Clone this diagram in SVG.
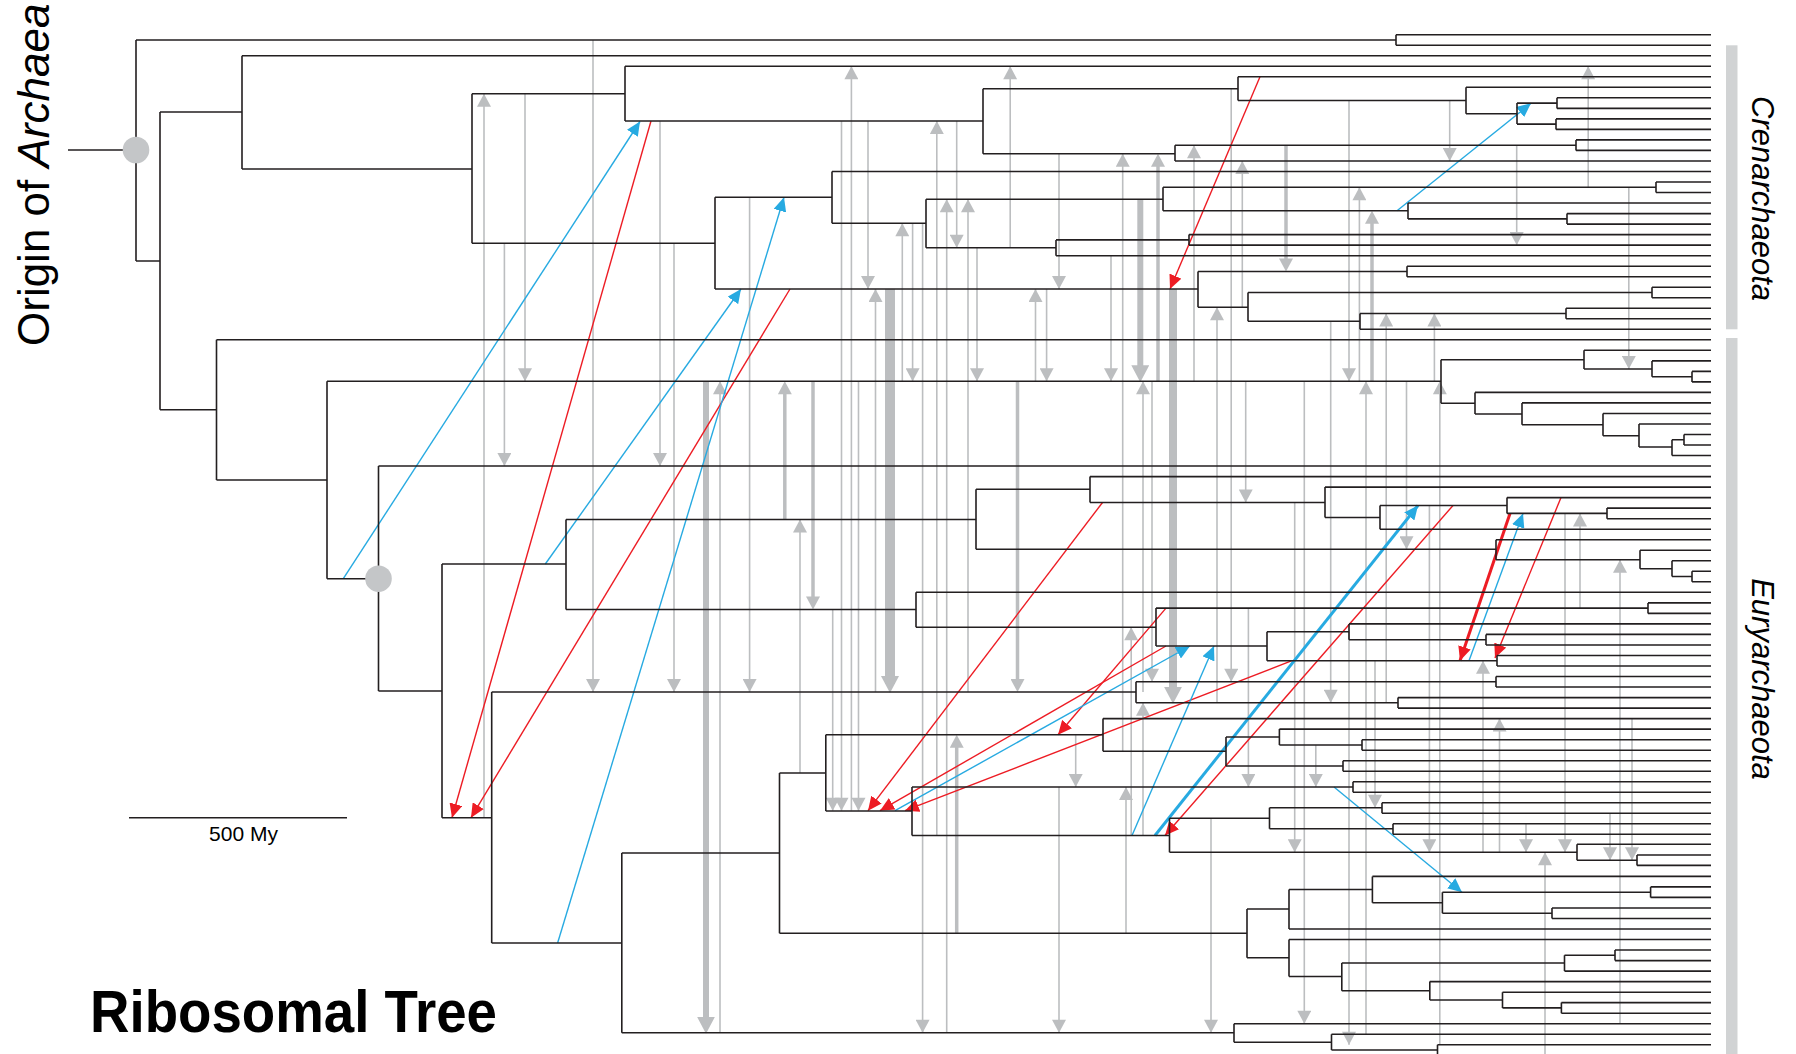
<svg xmlns="http://www.w3.org/2000/svg" width="1796" height="1054" viewBox="0 0 1796 1054">
<style>
.t{fill:none;stroke:#231f20;stroke-width:1.6}
.g{fill:none;stroke:#bcbec0;stroke-width:1.6;marker-end:url(#hg)}
.gm{fill:none;stroke:#bcbec0;stroke-width:3.5;marker-end:url(#hgM)}
.gt{fill:none;stroke:#bcbec0;stroke-width:8;marker-end:url(#hgL)}
.r{fill:none;stroke:#ed1c24;stroke-width:1.4;marker-end:url(#hr)}
.b{fill:none;stroke:#27aae1;stroke-width:1.4;marker-end:url(#hb)}
.w3{stroke-width:3}
.lab{font-family:"Liberation Sans",Arial,sans-serif;fill:#000}
.bar{fill:#d1d3d4}
</style>
<defs>
<marker id="hg" markerUnits="userSpaceOnUse" markerWidth="14" markerHeight="14" viewBox="0 0 13 14" refX="13" refY="7" orient="auto"><path d="M0,0 L13,7 L0,14 z" fill="#bcbec0"/></marker>
<marker id="hgM" markerUnits="userSpaceOnUse" markerWidth="14" markerHeight="14" viewBox="0 0 13 14" refX="6" refY="7" orient="auto"><path d="M0,0 L13,7 L0,14 z" fill="#bcbec0"/></marker>
<marker id="hgL" markerUnits="userSpaceOnUse" markerWidth="17" markerHeight="18" viewBox="0 0 17 18" refX="8" refY="9" orient="auto"><path d="M0,0 L17,9 L0,18 z" fill="#bcbec0"/></marker>
<marker id="hr" markerUnits="userSpaceOnUse" markerWidth="14" markerHeight="13" viewBox="0 0 14 13" refX="14" refY="6.5" orient="auto"><path d="M0,0 L14,6.5 L0,13 z" fill="#ed1c24"/></marker>
<marker id="hb" markerUnits="userSpaceOnUse" markerWidth="14" markerHeight="13" viewBox="0 0 14 13" refX="14" refY="6.5" orient="auto"><path d="M0,0 L14,6.5 L0,13 z" fill="#27aae1"/></marker>
</defs>
<rect width="1796" height="1054" fill="#fff"/>

<g id="labels">
<text class="lab" font-size="44" transform="translate(49,346) rotate(-90)">Origin of <tspan font-style="italic">Archaea</tspan></text>
<text class="lab" font-size="31" font-style="italic" text-anchor="middle" transform="translate(1752,198.5) rotate(90)">Crenarchaeota</text>
<text class="lab" font-size="31" font-style="italic" text-anchor="middle" transform="translate(1752,679) rotate(90)">Euryarchaeota</text>
<text class="lab" font-size="60" font-weight="bold" x="90" y="1031.7" textLength="407" lengthAdjust="spacingAndGlyphs">Ribosomal Tree</text>
<text class="lab" font-size="21" text-anchor="middle" x="243.5" y="841">500 My</text>
<path d="M129,817.7 H347" stroke="#231f20" stroke-width="1.6"/>
<rect class="bar" x="1726" y="45.3" width="11.5" height="284"/>
<rect class="bar" x="1726" y="338" width="11.5" height="716"/>
</g>

<g id="arrows-gray">
<path class="g" d="M484,817.7V93.7"/>
<path class="g" d="M504.4,243.3V466"/>
<path class="g" d="M525,93.7V381.3"/>
<path class="g" d="M593,40V692"/>
<path class="g" d="M660,121V466"/>
<path class="g" d="M674,243.3V692"/>
<path class="g" d="M720,1032.7V381.3"/>
<path class="g" d="M749.6,197.3V692"/>
<path class="g" d="M800,773V519.5"/>
<path class="g" d="M832.7,609.5V810.7"/>
<path class="g" d="M841.5,121V810.7"/>
<path class="g" d="M851.4,810.7V66.3"/>
<path class="g" d="M858.5,381.3V810.7"/>
<path class="g" d="M868,121V289"/>
<path class="g" d="M875.5,692V289"/>
<path class="g" d="M902.3,381.3V223.3"/>
<path class="g" d="M912.6,223.3V381.3"/>
<path class="g" d="M922.6,223.3V1032.7"/>
<path class="g" d="M936.8,835.5V121"/>
<path class="g" d="M946.7,1032.7V199.3"/>
<path class="g" d="M956.7,121V247.7"/>
<path class="g" d="M968,692V199.3"/>
<path class="g" d="M977,247.7V381.3"/>
<path class="g" d="M1010.2,247.7V66.3"/>
<path class="g" d="M1035.5,381.3V289"/>
<path class="g" d="M1046.6,289V381.3"/>
<path class="g" d="M1059,153.7V289"/>
<path class="g" d="M1059,787V1032.7"/>
<path class="g" d="M1075.7,734.7V787"/>
<path class="g" d="M1111,255.7V381.3"/>
<path class="g" d="M1122.7,751.3V153.7"/>
<path class="g" d="M1126,933.3V787"/>
<path class="g" d="M1131.2,835.5V627.3"/>
<path class="g" d="M1143,692V381.3"/>
<path class="g" d="M1143,835.5V702.8"/>
<path class="g" d="M1152,381.3V681.8"/>
<path class="g" d="M1194,381.3V145.2"/>
<path class="g" d="M1211,818.3V1032.7"/>
<path class="g" d="M1217,702.8V307.3"/>
<path class="g" d="M1231.2,88.7V681.8"/>
<path class="g" d="M1242.3,307.3V161"/>
<path class="g" d="M1245.7,381.3V502.5"/>
<path class="g" d="M1248.4,608.1V787"/>
<path class="g" d="M1294.7,502.5V852.3"/>
<path class="g" d="M1304.3,381.3V1023.7"/>
<path class="g" d="M1315.8,745V787"/>
<path class="g" d="M1330.7,321.3V702.8"/>
<path class="g" d="M1349,100.5V381.3"/>
<path class="g" d="M1349,631.8V1044.7"/>
<path class="g" d="M1359.4,381.3V187.3"/>
<path class="g" d="M1366,1034.2V381.3"/>
<path class="g" d="M1375,660.7V807.8"/>
<path class="g" d="M1386.2,702.8V313.5"/>
<path class="g" d="M1406.5,381.3V549.3"/>
<path class="g" d="M1429.4,505.5V852.3"/>
<path class="g" d="M1434.4,381.3V313.5"/>
<path class="g" d="M1439.8,1044.7V381.3"/>
<path class="g" d="M1449.7,100.5V161"/>
<path class="g" d="M1483,852.3V660.7"/>
<path class="g" d="M1499.5,852.3V718.6"/>
<path class="g" d="M1516.7,145.2V245.1"/>
<path class="g" d="M1526,823.7V852.3"/>
<path class="g" d="M1545,1054V852.3"/>
<path class="g" d="M1565,513.4V852.3"/>
<path class="g" d="M1580,608.1V513.4"/>
<path class="g" d="M1588.2,187.3V66.3"/>
<path class="g" d="M1610,813.3V860.2"/>
<path class="g" d="M1620,1023.7V559.7"/>
<path class="g" d="M1628.8,187.3V369"/>
<path class="g" d="M1632,718.6V860.2"/>
<path class="gm" d="M784.8,519.5V388.3"/>
<path class="gm" d="M813,381.3V602.5"/>
<path class="gm" d="M956.7,933.3V741.7"/>
<path class="gm" d="M1017.5,381.3V685"/>
<path class="gm" d="M1158,381.3V160.7"/>
<path class="gm" d="M1286,145.2V264.5"/>
<path class="gm" d="M1372,381.3V217.7"/>
<path class="gt" d="M706,381.3V1024.7" style="stroke-width:6"/>
<path class="gt" d="M890,289V684" style="stroke-width:10"/>
<path class="gt" d="M1140.3,199.3V373.3" style="stroke-width:6"/>
<path class="gt" d="M1173,289V694.8"/>
</g>

<g id="arrows-red">
<path class="r" d="M651,121L452,817.7"/>
<path class="r" d="M790,289L471,817.7"/>
<path class="r" d="M1260,76.8L1170,289"/>
<path class="r" d="M1102.5,502.5L868,810.7"/>
<path class="r" d="M1166,646L880,810.7"/>
<path class="r" d="M1166,608.1L1058,734.7"/>
<path class="r" d="M1292,660.7L905,810.7"/>
<path class="r" d="M1453,505.5L1165,835.5"/>
<path class="r w3" d="M1510,513.4L1460,660.7"/>
<path class="r" d="M1561,497.6L1495,658"/>
</g>

<g id="arrows-blue">
<path class="b" d="M343.3,578.7L640,121.5"/>
<path class="b" d="M557.6,943L784,197.3"/>
<path class="b" d="M545.3,564L741,289"/>
<path class="b" d="M1397,210.7L1531,103.3"/>
<path class="b w3" d="M1155,835.5L1418,505.5"/>
<path class="b" d="M1132,835.5L1214,646"/>
<path class="b" d="M895,810.7L1190,646"/>
<path class="b" d="M1334,787L1462,892.2"/>
<path class="b" d="M1469,660.7L1523,513.4"/>
</g>

<g id="tree">
<g id="n-root"><path class="t" d="M68,150H136M136,40V261"/><circle cx="136" cy="150" r="13.3" fill="#c4c6c8"/></g>
<g id="n-01"><path class="t" d="M136,40H1396M1396,34.7V45.2M1396,34.7H1711M1396,45.2H1711"/></g>
<g id="n-A"><path class="t" d="M136,261H160M160,112V409.7"/></g>
<g id="n-B"><path class="t" d="M160,112H242M242,55.7V169M242,55.7H1711"/></g>
<g id="n-C"><path class="t" d="M242,169H472M472,93.7V243.3"/></g>
<g id="n-E"><path class="t" d="M472,93.7H625M625,66.3V121M625,66.3H1711"/></g>
<g id="n-F"><path class="t" d="M625,121H983M983,88.7V153.7"/></g>
<g id="n-G"><path class="t" d="M983,88.7H1238M1238,76.8V100.5M1238,76.8H1711"/></g>
<g id="n-H"><path class="t" d="M1238,100.5H1466M1466,87.3V113.7M1466,87.3H1711"/></g>
<g id="n-I"><path class="t" d="M1466,113.7H1517M1517,103.1V124.1"/></g>
<g id="n-J"><path class="t" d="M1517,103.1H1557M1557,97.8V108.4M1557,97.8H1711M1557,108.4H1711"/></g>
<g id="n-K"><path class="t" d="M1517,124.1H1556M1556,118.9V129.4M1556,118.9H1711M1556,129.4H1711"/></g>
<g id="n-L"><path class="t" d="M983,153.7H1175M1175,145.2V161M1175,161H1711"/></g>
<g id="n-L1"><path class="t" d="M1175,145.2H1576M1576,139.9V150.4M1576,139.9H1711M1576,150.4H1711"/></g>
<g id="n-D"><path class="t" d="M472,243.3H715M715,197.3V289"/></g>
<g id="n-M"><path class="t" d="M715,197.3H832M832,171.5V223.3M832,171.5H1711"/></g>
<g id="n-N"><path class="t" d="M832,223.3H926M926,199.3V247.7"/></g>
<g id="n-O"><path class="t" d="M926,199.3H1163M1163,187.3V210.7"/></g>
<g id="n-O1"><path class="t" d="M1163,187.3H1656M1656,182V192.5M1656,182H1711M1656,192.5H1711"/></g>
<g id="n-P"><path class="t" d="M1163,210.7H1408M1408,203V218.9M1408,203H1711"/></g>
<g id="n-P1"><path class="t" d="M1408,218.9H1567M1567,213.6V224.1M1567,213.6H1711M1567,224.1H1711"/></g>
<g id="n-Q"><path class="t" d="M926,247.7H1056M1056,239.9V255.7M1056,255.7H1711"/></g>
<g id="n-Q1"><path class="t" d="M1056,239.9H1189M1189,234.6V245.1M1189,234.6H1711M1189,245.1H1711"/></g>
<g id="n-R"><path class="t" d="M715,289H1198M1198,271.5V307.3"/></g>
<g id="n-R1"><path class="t" d="M1198,271.5H1407M1407,266.2V276.7M1407,266.2H1711M1407,276.7H1711"/></g>
<g id="n-S"><path class="t" d="M1198,307.3H1248M1248,292.5V321.3"/></g>
<g id="n-S1"><path class="t" d="M1248,292.5H1652M1652,287.2V297.7M1652,287.2H1711M1652,297.7H1711"/></g>
<g id="n-T"><path class="t" d="M1248,321.3H1360M1360,313.5V329.3M1360,329.3H1711"/></g>
<g id="n-T1"><path class="t" d="M1360,313.5H1566M1566,308.2V318.8M1566,308.2H1711M1566,318.8H1711"/></g>
<g id="n-U"><path class="t" d="M160,409.7H216.5M216.5,339.8V480M216.5,339.8H1711"/></g>
<g id="n-V"><path class="t" d="M216.5,480H327M327,381.3V578.7"/></g>
<g id="n-W"><path class="t" d="M327,381.3H1441M1441,359.7V403.3"/></g>
<g id="n-X"><path class="t" d="M1441,359.7H1584M1584,350.3V369M1584,350.3H1711"/></g>
<g id="n-Y"><path class="t" d="M1584,369H1652M1652,360.9V376.7M1652,360.9H1711"/></g>
<g id="n-Y1"><path class="t" d="M1652,376.7H1692M1692,371.4V381.9M1692,371.4H1711M1692,381.9H1711"/></g>
<g id="n-Z"><path class="t" d="M1441,403.3H1475M1475,392.4V414M1475,392.4H1711"/></g>
<g id="n-AA"><path class="t" d="M1475,414H1522M1522,402.9V424.7M1522,402.9H1711"/></g>
<g id="n-AB"><path class="t" d="M1522,424.7H1603M1603,413.5V435.7M1603,413.5H1711"/></g>
<g id="n-AC"><path class="t" d="M1603,435.7H1639M1639,424V447M1639,424H1711"/></g>
<g id="n-AD"><path class="t" d="M1639,447H1672M1672,439.8V455.5M1672,455.5H1711"/></g>
<g id="n-AD1"><path class="t" d="M1672,439.8H1684M1684,434.5V445M1684,434.5H1711M1684,445H1711"/></g>
<g id="n-AE"><path class="t" d="M327,578.7H378.5M378.5,466V691M378.5,466H1711"/><circle cx="378.5" cy="578.7" r="13.3" fill="#c4c6c8"/></g>
<g id="n-AF"><path class="t" d="M378.5,691H442M442,564V817.7"/></g>
<g id="n-AG"><path class="t" d="M442,564H566M566,519.5V609.5"/></g>
<g id="n-AI"><path class="t" d="M566,519.5H976M976,489.3V549.3"/></g>
<g id="n-AJ"><path class="t" d="M976,489.3H1090M1090,476.6V502.5M1090,476.6H1711"/></g>
<g id="n-AK"><path class="t" d="M1090,502.5H1325M1325,487.1V517.5M1325,487.1H1711"/></g>
<g id="n-AL"><path class="t" d="M1325,517.5H1380M1380,505.5V529.2M1380,529.2H1711"/></g>
<g id="n-AM"><path class="t" d="M1380,505.5H1507M1507,497.6V513.4M1507,497.6H1711"/></g>
<g id="n-AM1"><path class="t" d="M1507,513.4H1607M1607,508.1V518.7M1607,508.1H1711M1607,518.7H1711"/></g>
<g id="n-AN"><path class="t" d="M976,549.3H1496M1496,539.7V559.7M1496,539.7H1711"/></g>
<g id="n-AN1"><path class="t" d="M1496,559.7H1640M1640,550.2V568.7M1640,550.2H1711"/></g>
<g id="n-AN2"><path class="t" d="M1640,568.7H1672M1672,560.8V576.5M1672,560.8H1711"/></g>
<g id="n-AN3"><path class="t" d="M1672,576.5H1692M1692,571.3V581.8M1692,571.3H1711M1692,581.8H1711"/></g>
<g id="n-BA"><path class="t" d="M566,609.5H916M916,592.3V627.3M916,592.3H1711"/></g>
<g id="n-BB"><path class="t" d="M916,627.3H1156M1156,608.1V646"/></g>
<g id="n-BB1"><path class="t" d="M1156,608.1H1648M1648,602.9V613.4M1648,602.9H1711M1648,613.4H1711"/></g>
<g id="n-BC"><path class="t" d="M1156,646H1267M1267,631.8V660.7"/></g>
<g id="n-BD"><path class="t" d="M1267,631.8H1349M1349,623.9V639.7M1349,623.9H1711"/></g>
<g id="n-BD1"><path class="t" d="M1349,639.7H1486M1486,634.4V645M1486,634.4H1711M1486,645H1711"/></g>
<g id="n-BE"><path class="t" d="M1267,660.7H1497M1497,655.5V666M1497,655.5H1711M1497,666H1711"/></g>
<g id="n-AH"><path class="t" d="M442,817.7H491.7M491.7,692V943"/></g>
<g id="n-AP"><path class="t" d="M491.7,692H1136M1136,681.8V702.8"/></g>
<g id="n-AP1"><path class="t" d="M1136,681.8H1496M1496,676.5V687M1496,676.5H1711M1496,687H1711"/></g>
<g id="n-AP2"><path class="t" d="M1136,702.8H1398M1398,697.6V708.1M1398,697.6H1711M1398,708.1H1711"/></g>
<g id="n-AO"><path class="t" d="M491.7,943H621.8M621.8,853V1032.7"/></g>
<g id="n-AV"><path class="t" d="M621.8,853H779.5M779.5,773V933.3"/></g>
<g id="n-AQ"><path class="t" d="M779.5,773H825.8M825.8,734.7V811"/></g>
<g id="n-AR"><path class="t" d="M825.8,734.7H1103M1103,718.6V751.3M1103,718.6H1711"/></g>
<g id="n-AS"><path class="t" d="M1103,751.3H1226M1226,737V766"/></g>
<g id="n-AS1"><path class="t" d="M1226,737H1279.4M1279.4,729.1V745M1279.4,729.1H1711"/></g>
<g id="n-AS2"><path class="t" d="M1279.4,745H1362M1362,739.7V750.2M1362,739.7H1711M1362,750.2H1711"/></g>
<g id="n-AS3"><path class="t" d="M1226,766H1343M1343,760.7V771.2M1343,760.7H1711M1343,771.2H1711"/></g>
<g id="n-AT"><path class="t" d="M825.8,811H912M912,787V835.5"/></g>
<g id="n-AT1"><path class="t" d="M912,787H1353M1353,781.7V792.3M1353,781.7H1711M1353,792.3H1711"/></g>
<g id="n-AU"><path class="t" d="M912,835.5H1169.5M1169.5,818.3V852.3"/></g>
<g id="n-AU1"><path class="t" d="M1169.5,818.3H1269.5M1269.5,807.8V828.8"/></g>
<g id="n-AU2"><path class="t" d="M1269.5,807.8H1382M1382,802.7V813.3M1382,802.7H1711M1382,813.3H1711"/></g>
<g id="n-AU3"><path class="t" d="M1269.5,828.8H1393M1393,823.7V834.3M1393,823.7H1711M1393,834.3H1711"/></g>
<g id="n-AU4"><path class="t" d="M1169.5,852.3H1577M1577,844.2V860.2M1577,844.2H1711"/></g>
<g id="n-AU5"><path class="t" d="M1577,860.2H1637M1637,855V865.4M1637,855H1711M1637,865.4H1711"/></g>
<g id="n-AW"><path class="t" d="M779.5,933.3H1247M1247,909V957.7"/></g>
<g id="n-AW1"><path class="t" d="M1247,909H1289M1289,889.5V929M1289,929H1711"/></g>
<g id="n-AW2"><path class="t" d="M1289,889.5H1372.4M1372.4,876.4V902.7M1372.4,876.4H1711"/></g>
<g id="n-AW3"><path class="t" d="M1372.4,902.7H1442.4M1442.4,892.2V913.3"/></g>
<g id="n-AW4"><path class="t" d="M1442.4,892.2H1650.6M1650.6,886.9V897.4M1650.6,886.9H1711M1650.6,897.4H1711"/></g>
<g id="n-AW5"><path class="t" d="M1442.4,913.3H1552M1552,908V918.5M1552,908H1711M1552,918.5H1711"/></g>
<g id="n-AX"><path class="t" d="M1247,957.7H1289M1289,939.5V976.5M1289,939.5H1711"/></g>
<g id="n-AX1"><path class="t" d="M1289,976.5H1341.8M1341.8,963V990.7"/></g>
<g id="n-AX2"><path class="t" d="M1341.8,963H1564.5M1564.5,955.3V971.1M1564.5,971.1H1711"/></g>
<g id="n-AX3"><path class="t" d="M1564.5,955.3H1615M1615,950V960.6M1615,950H1711M1615,960.6H1711"/></g>
<g id="n-AX4"><path class="t" d="M1341.8,990.7H1429.8M1429.8,981.6V1000M1429.8,981.6H1711"/></g>
<g id="n-AX5"><path class="t" d="M1429.8,1000H1502.5M1502.5,992.2V1007.9M1502.5,992.2H1711"/></g>
<g id="n-AX6"><path class="t" d="M1502.5,1007.9H1561.4M1561.4,1002.6V1013.2M1561.4,1002.6H1711M1561.4,1013.2H1711"/></g>
<g id="n-AY"><path class="t" d="M621.8,1032.7H1234M1234,1023.7V1042.3M1234,1023.7H1711"/></g>
<g id="n-AY1"><path class="t" d="M1234,1042.3H1331.5M1331.5,1034.2V1050M1331.5,1034.2H1711"/></g>
<g id="n-AY2"><path class="t" d="M1331.5,1050H1437.5M1437.5,1044.7V1056M1437.5,1044.7H1711"/></g>
</g>
</svg>
